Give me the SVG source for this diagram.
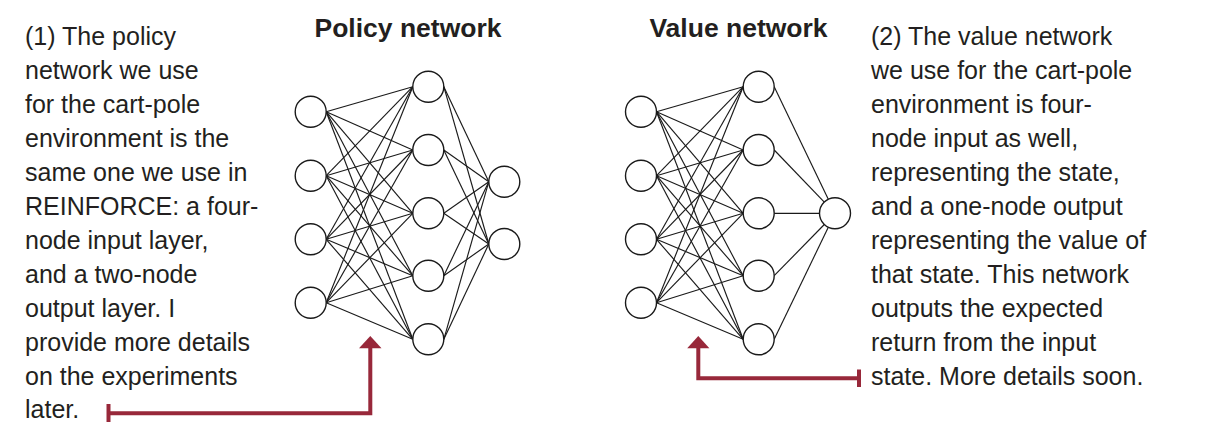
<svg xmlns="http://www.w3.org/2000/svg" width="1206" height="438" viewBox="0 0 1206 438">
<style>
.bg{fill:#ffffff}
.node{fill:#ffffff;stroke:#1a1a1a;stroke-width:1.4}
.edge{stroke:#1a1a1a;stroke-width:1.15;fill:none}
.title{font-family:"Liberation Sans",Arial,sans-serif;font-weight:bold;font-size:26.5px;fill:#231f20;text-anchor:middle}
.note{font-family:"Liberation Sans",Arial,sans-serif;font-size:25px;fill:#231f20}
.callout{stroke:#98283a;stroke-width:4;fill:none}
.head{fill:#98283a}
</style>
<rect class="bg" x="0" y="0" width="1206" height="438"/>

<g id="connectors">
  <!-- policy: input -> hidden -->
  <g class="edge">
    <line x1="326.2" y1="111.7" x2="412.8" y2="86.7"/>
    <line x1="326.2" y1="111.7" x2="412.8" y2="150"/>
    <line x1="326.2" y1="111.7" x2="412.8" y2="213.3"/>
    <line x1="326.2" y1="111.7" x2="412.8" y2="275.7"/>
    <line x1="326.2" y1="111.7" x2="412.8" y2="339.3"/>
    <line x1="326.2" y1="175.7" x2="412.8" y2="86.7"/>
    <line x1="326.2" y1="175.7" x2="412.8" y2="150"/>
    <line x1="326.2" y1="175.7" x2="412.8" y2="213.3"/>
    <line x1="326.2" y1="175.7" x2="412.8" y2="275.7"/>
    <line x1="326.2" y1="175.7" x2="412.8" y2="339.3"/>
    <line x1="326.2" y1="239.3" x2="412.8" y2="86.7"/>
    <line x1="326.2" y1="239.3" x2="412.8" y2="150"/>
    <line x1="326.2" y1="239.3" x2="412.8" y2="213.3"/>
    <line x1="326.2" y1="239.3" x2="412.8" y2="275.7"/>
    <line x1="326.2" y1="239.3" x2="412.8" y2="339.3"/>
    <line x1="326.2" y1="302.7" x2="412.8" y2="86.7"/>
    <line x1="326.2" y1="302.7" x2="412.8" y2="150"/>
    <line x1="326.2" y1="302.7" x2="412.8" y2="213.3"/>
    <line x1="326.2" y1="302.7" x2="412.8" y2="275.7"/>
    <line x1="326.2" y1="302.7" x2="412.8" y2="339.3"/>
    <!-- policy: hidden -> output -->
    <line x1="443.8" y1="86.7" x2="488.8" y2="181.7"/>
    <line x1="443.8" y1="86.7" x2="488.8" y2="244"/>
    <line x1="443.8" y1="150" x2="488.8" y2="181.7"/>
    <line x1="443.8" y1="150" x2="488.8" y2="244"/>
    <line x1="443.8" y1="213.3" x2="488.8" y2="181.7"/>
    <line x1="443.8" y1="213.3" x2="488.8" y2="244"/>
    <line x1="443.8" y1="275.7" x2="488.8" y2="181.7"/>
    <line x1="443.8" y1="275.7" x2="488.8" y2="244"/>
    <line x1="443.8" y1="339.3" x2="488.8" y2="181.7"/>
    <line x1="443.8" y1="339.3" x2="488.8" y2="244"/>
  </g>
  <!-- value: input -> hidden -->
  <g class="edge">
    <line x1="656.5" y1="111.7" x2="743.2" y2="86.7"/>
    <line x1="656.5" y1="111.7" x2="743.2" y2="150"/>
    <line x1="656.5" y1="111.7" x2="743.2" y2="213.3"/>
    <line x1="656.5" y1="111.7" x2="743.2" y2="275.7"/>
    <line x1="656.5" y1="111.7" x2="743.2" y2="339.3"/>
    <line x1="656.5" y1="175.7" x2="743.2" y2="86.7"/>
    <line x1="656.5" y1="175.7" x2="743.2" y2="150"/>
    <line x1="656.5" y1="175.7" x2="743.2" y2="213.3"/>
    <line x1="656.5" y1="175.7" x2="743.2" y2="275.7"/>
    <line x1="656.5" y1="175.7" x2="743.2" y2="339.3"/>
    <line x1="656.5" y1="239.3" x2="743.2" y2="86.7"/>
    <line x1="656.5" y1="239.3" x2="743.2" y2="150"/>
    <line x1="656.5" y1="239.3" x2="743.2" y2="213.3"/>
    <line x1="656.5" y1="239.3" x2="743.2" y2="275.7"/>
    <line x1="656.5" y1="239.3" x2="743.2" y2="339.3"/>
    <line x1="656.5" y1="302.7" x2="743.2" y2="86.7"/>
    <line x1="656.5" y1="302.7" x2="743.2" y2="150"/>
    <line x1="656.5" y1="302.7" x2="743.2" y2="213.3"/>
    <line x1="656.5" y1="302.7" x2="743.2" y2="275.7"/>
    <line x1="656.5" y1="302.7" x2="743.2" y2="339.3"/>
    <!-- value: hidden -> output -->
    <line x1="774.2" y1="86.7" x2="828.3" y2="199.3"/>
    <line x1="774.2" y1="150" x2="824.3" y2="202.1"/>
    <line x1="774.2" y1="213.3" x2="819.5" y2="213.3"/>
    <line x1="774.2" y1="275.7" x2="824.3" y2="224.5"/>
    <line x1="774.2" y1="339.3" x2="828.3" y2="227.3"/>
  </g>
  <!-- callout arrows -->
  <path class="callout" d="M108.5,413.3 H370.3 V347"/>
  <line class="callout" x1="108.5" y1="404" x2="108.5" y2="422"/>
  <polygon class="head" points="370.3,336 359,348.3 381.5,348.3"/>
  <path class="callout" d="M859,378.3 H698.3 V347"/>
  <line class="callout" x1="859" y1="369.5" x2="859" y2="387"/>
  <polygon class="head" points="698.3,336 687.2,348.3 709.4,348.3"/>
</g>

<g id="policy-title"><text class="title" x="408" y="37">Policy network</text></g>
<g id="value-title"><text class="title" x="738.5" y="37">Value network</text></g>

<g id="policy-in1"><circle class="node" cx="310.7" cy="111.7" r="15.5"/></g>
<g id="policy-in2"><circle class="node" cx="310.7" cy="175.7" r="15.5"/></g>
<g id="policy-in3"><circle class="node" cx="310.7" cy="239.3" r="15.5"/></g>
<g id="policy-in4"><circle class="node" cx="310.7" cy="302.7" r="15.5"/></g>
<g id="policy-h1"><circle class="node" cx="428.3" cy="86.7" r="15.5"/></g>
<g id="policy-h2"><circle class="node" cx="428.3" cy="150" r="15.5"/></g>
<g id="policy-h3"><circle class="node" cx="428.3" cy="213.3" r="15.5"/></g>
<g id="policy-h4"><circle class="node" cx="428.3" cy="275.7" r="15.5"/></g>
<g id="policy-h5"><circle class="node" cx="428.3" cy="339.3" r="15.5"/></g>
<g id="policy-out1"><circle class="node" cx="504.3" cy="181.7" r="15.5"/></g>
<g id="policy-out2"><circle class="node" cx="504.3" cy="244" r="15.5"/></g>

<g id="value-in1"><circle class="node" cx="641" cy="111.7" r="15.5"/></g>
<g id="value-in2"><circle class="node" cx="641" cy="175.7" r="15.5"/></g>
<g id="value-in3"><circle class="node" cx="641" cy="239.3" r="15.5"/></g>
<g id="value-in4"><circle class="node" cx="641" cy="302.7" r="15.5"/></g>
<g id="value-h1"><circle class="node" cx="758.7" cy="86.7" r="15.5"/></g>
<g id="value-h2"><circle class="node" cx="758.7" cy="150" r="15.5"/></g>
<g id="value-h3"><circle class="node" cx="758.7" cy="213.3" r="15.5"/></g>
<g id="value-h4"><circle class="node" cx="758.7" cy="275.7" r="15.5"/></g>
<g id="value-h5"><circle class="node" cx="758.7" cy="339.3" r="15.5"/></g>
<g id="value-out"><circle class="node" cx="835" cy="213.3" r="15.5"/></g>

<g id="note-policy">
  <text class="note" x="25" y="45">(1) The policy</text>
  <text class="note" x="25" y="79">network we use</text>
  <text class="note" x="25" y="113">for the cart-pole</text>
  <text class="note" x="25" y="147">environment is the</text>
  <text class="note" x="25" y="181">same one we use in</text>
  <text class="note" x="25" y="215">REINFORCE: a four-</text>
  <text class="note" x="25" y="249">node input layer,</text>
  <text class="note" x="25" y="283">and a two-node</text>
  <text class="note" x="25" y="317">output layer. I</text>
  <text class="note" x="25" y="351">provide more details</text>
  <text class="note" x="25" y="385">on the experiments</text>
  <text class="note" x="25" y="418">later.</text>
</g>

<g id="note-value">
  <text class="note" x="871" y="45">(2) The value network</text>
  <text class="note" x="871" y="79">we use for the cart-pole</text>
  <text class="note" x="871" y="113">environment is four-</text>
  <text class="note" x="871" y="147">node input as well,</text>
  <text class="note" x="871" y="181">representing the state,</text>
  <text class="note" x="871" y="215">and a one-node output</text>
  <text class="note" x="871" y="249">representing the value of</text>
  <text class="note" x="871" y="283">that state. This network</text>
  <text class="note" x="871" y="317">outputs the expected</text>
  <text class="note" x="871" y="351">return from the input</text>
  <text class="note" x="871" y="385">state. More details soon.</text>
</g>
</svg>
